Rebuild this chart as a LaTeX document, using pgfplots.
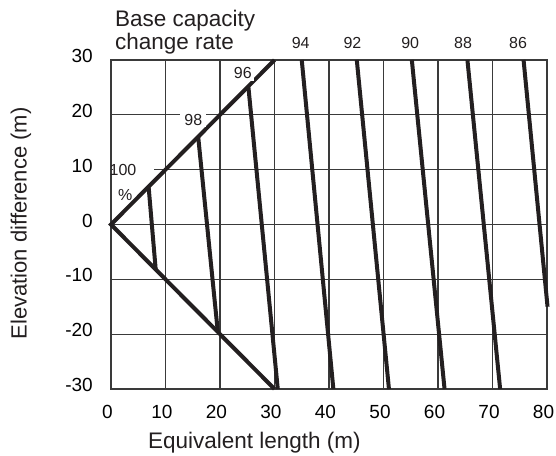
\documentclass[border=0pt]{standalone}
\usepackage{fontspec}
\setmainfont{Liberation Sans}
\usepackage{pgfplots}
\pgfplotsset{compat=1.18}
\definecolor{ink}{HTML}{231F20}
\definecolor{gridc}{HTML}{3A3A3A}
\begin{document}
\begin{tikzpicture}
\begin{axis}[
  scale only axis, width=436pt, height=329pt,
  xmin=0, xmax=80, ymin=-30, ymax=30,
  xtick={0,10,...,80}, ytick={-30,-20,...,30},
  grid=major, major grid style={gridc, line width=1.2pt},
  axis line style={gridc, line width=1.2pt},
  major tick length=0pt,
  clip=false,
  /pgf/number format/assume math mode=true,
  ticklabel style={font=\fontsize{19}{22}\selectfont, inner sep=0pt},
  xticklabel style={anchor=north, yshift=-16pt, xshift=-3.5pt},
  yticklabel style={anchor=east, xshift=-18pt, yshift=4pt},
]
\fill[white] (axis cs:0.3,8.3) rectangle (axis cs:7.8,11.7);
\addplot[ink, line width=4pt, line join=miter, line cap=butt] coordinates {(30,30) (0,0) (30,-30)};
\addplot[ink, line width=4pt] coordinates {(6.9,6.9) (8.2,-8.2)};
\addplot[ink, line width=4pt] coordinates {(16,16) (19.6,-19.6)};
\addplot[ink, line width=4pt] coordinates {(25.2,25.2) (30.6,-30)};
\addplot[ink, line width=4pt] coordinates {(35,30) (40.8,-30)};
\addplot[ink, line width=4pt] coordinates {(45.1,30) (51,-30)};
\addplot[ink, line width=4pt] coordinates {(55.2,30) (61.2,-30)};
\addplot[ink, line width=4pt] coordinates {(65.4,30) (71.4,-30)};
\addplot[ink, line width=4pt] coordinates {(75.7,30) (80.1,-15)};
\begin{scope}[every node/.style={font=\fontsize{16}{18}\selectfont, text=ink}]
\node at (axis cs:2.2,9.9) {100};
\node at (axis cs:2.6,5.4) {\%};
\node[fill=white, inner xsep=4pt, inner ysep=2pt] at (axis cs:15.1,19.1) {98};
\node[fill=white, inner sep=2pt] at (axis cs:24.2,27.6) {96};
\node at (axis cs:34.8,33.05) {94};
\node at (axis cs:44.3,33.05) {92};
\node at (axis cs:54.9,33.05) {90};
\node at (axis cs:64.6,33.05) {88};
\node at (axis cs:74.7,33.05) {86};
\end{scope}
\begin{scope}[every node/.style={font=\fontsize{22.5}{26}\selectfont, text=ink, inner sep=0pt}]
\node[anchor=base west] at (axis cs:0.73,36.1) {Base capacity};
\node[anchor=base west] at (axis cs:0.73,31.9) {change rate};
\node[anchor=base] at ([yshift=-59.3pt]axis cs:26.3,-30) {Equivalent length (m)};
\node[anchor=base, rotate=90, font=\fontsize{22}{26}\selectfont] at ([xshift=-84.3pt]axis cs:0,0.2) {Elevation difference (m)};
\end{scope}
\end{axis}
\pgfresetboundingbox
\path ([shift={(-111pt,-67pt)}]current axis.south west) rectangle ([shift={(9pt,60pt)}]current axis.north east);
\end{tikzpicture}
\end{document}
